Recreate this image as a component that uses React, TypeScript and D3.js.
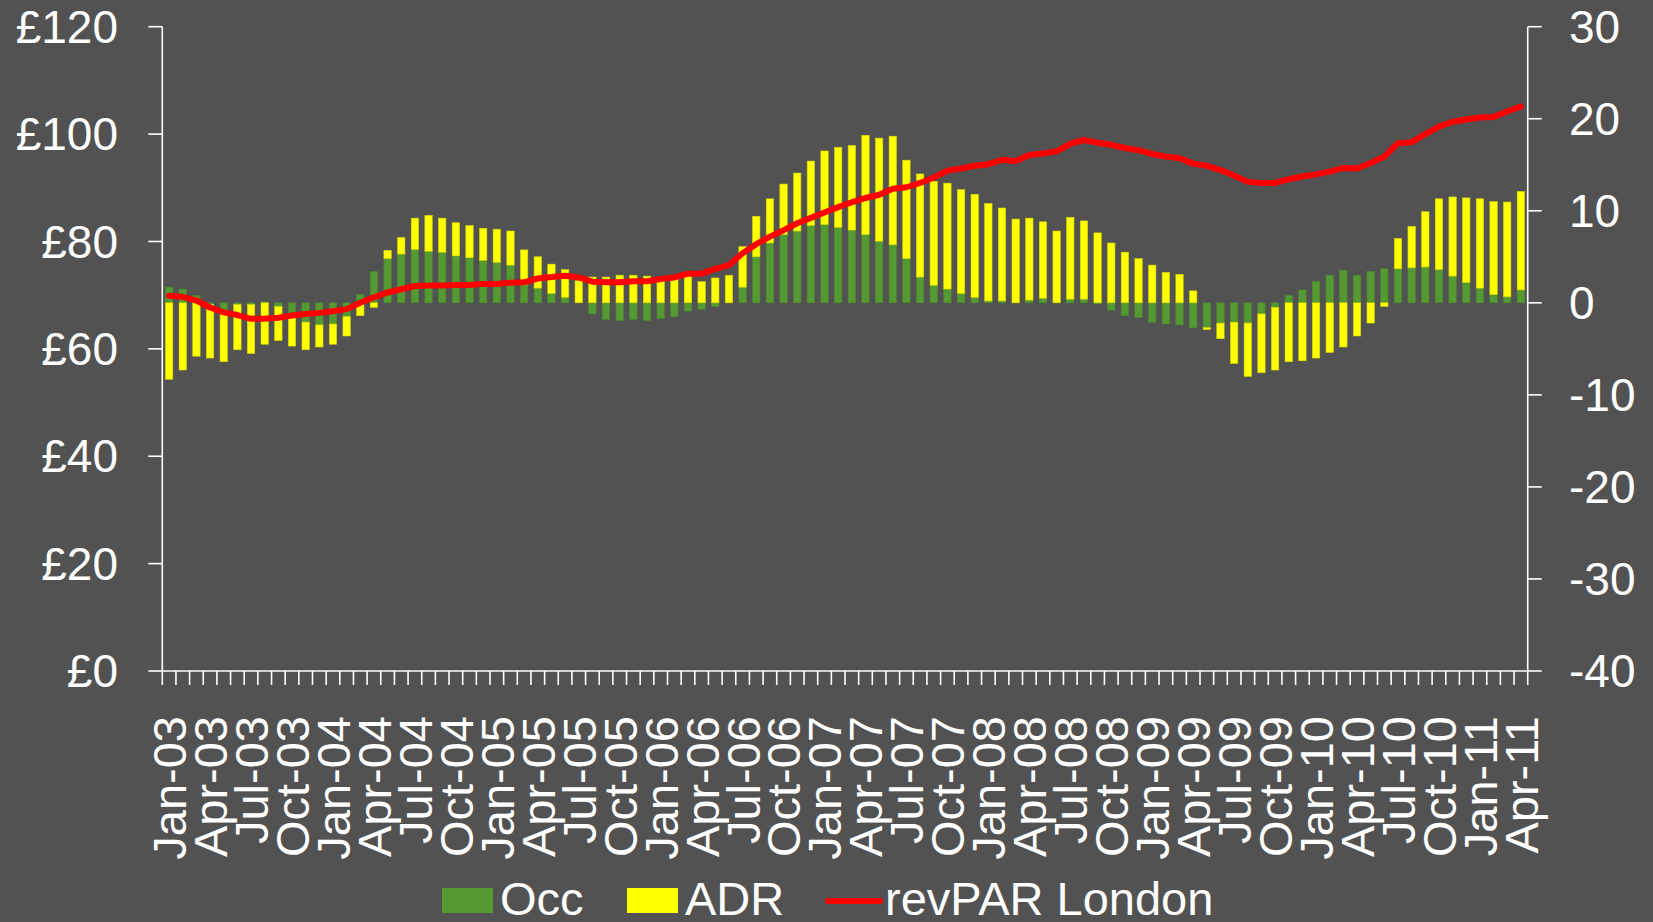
import React, { useEffect, useRef } from 'react';
import * as d3 from 'd3';

// monthly % change, Jan-03 .. Apr-11
const occ = [
  1.7, 1.5, 0.8, -0.2, -1.2, -0.2, -0.2, 0.1, -0.4, -1.5,
  -2.1, -2.4, -2.3, -1.5, 0.9, 3.4, 4.8, 5.3, 5.8, 5.6,
  5.5, 5.1, 4.9, 4.6, 4.4, 4.1, 1.95, 1.6, 1.0, 0.6,
  0.0, -1.2, -1.8, -1.9, -1.8, -1.9, -1.7, -1.5, -0.9, -0.7,
  -0.4, 0.0, 1.7, 5.0, 6.5, 7.4, 7.8, 8.4, 8.5, 8.2,
  7.9, 7.4, 6.7, 6.3, 4.8, 2.8, 1.9, 1.5, 1.0, 0.6,
  0.2, 0.2, 0.0, 0.3, 0.5, 0.0, 0.4, 0.4, -0.1, -0.8,
  -1.4, -1.6, -2.1, -2.3, -2.4, -2.7, -2.7, -2.2, -2.1, -2.2,
  -1.2, -0.5, 0.8, 1.4, 2.3, 3.0, 3.5, 3.0, 3.4, 3.7,
  3.7, 3.8, 3.9, 3.6, 2.9, 2.2, 1.6, 0.9, 0.65, 1.4,
];
const adr = [
  -8.3, -7.3, -5.8, -5.8, -5.2, -4.9, -5.3, -4.5, -3.7, -3.2,
  -3.0, -2.4, -2.2, -2.1, -1.4, -0.5, 0.9, 1.8, 3.4, 3.9,
  3.7, 3.6, 3.5, 3.5, 3.6, 3.7, 3.8, 3.4, 3.2, 3.0,
  2.4, 2.8, 2.8, 3.0, 3.0, 2.9, 2.7, 2.7, 2.9, 2.3,
  2.7, 3.0, 4.4, 4.4, 4.8, 5.5, 6.3, 7.0, 8.0, 8.7,
  9.2, 10.8, 11.2, 11.8, 10.7, 11.2, 11.3, 11.5, 11.3, 11.2,
  10.6, 10.1, 9.1, 8.9, 8.3, 7.8, 8.9, 8.5, 7.6, 6.5,
  5.5, 4.8, 4.1, 3.3, 3.1, 1.3, -0.2, -1.7, -4.5, -5.8,
  -6.4, -6.8, -6.4, -6.3, -6.0, -5.4, -4.8, -3.6, -2.2, -0.4,
  3.3, 4.5, 6.0, 7.7, 8.6, 9.2, 9.7, 10.1, 10.3, 10.7,
];
// revPAR London, £
const revpar = [
  69.9, 69.7, 69.0, 67.7, 66.8, 66.3, 65.6, 65.6, 65.8, 66.2,
  66.5, 66.7, 67.0, 67.4, 68.6, 69.6, 70.5, 71.1, 71.7, 71.8,
  71.8, 71.9, 71.9, 72.1, 72.1, 72.3, 72.4, 73.1, 73.4, 73.6,
  73.3, 72.5, 72.4, 72.4, 72.6, 72.6, 73.0, 73.3, 74.0, 74.0,
  74.9, 75.6, 77.8, 79.5, 80.9, 82.1, 83.4, 84.4, 85.4, 86.4,
  87.3, 88.1, 88.7, 89.8, 90.1, 90.9, 91.9, 93.2, 93.6, 94.1,
  94.4, 95.2, 95.0, 96.1, 96.4, 96.8, 98.2, 98.9, 98.4, 98.0,
  97.4, 97.0, 96.3, 95.8, 95.5, 94.5, 94.1, 93.3, 92.3, 91.1,
  90.9, 90.9, 91.6, 92.1, 92.5, 93.0, 93.7, 93.6, 94.6, 95.8,
  98.3, 98.5, 100.0, 101.4, 102.3, 102.7, 103.1, 103.2, 104.2, 105.1,
];
const tickLabels = [
  'Jan-03', 'Apr-03', 'Jul-03', 'Oct-03', 'Jan-04', 'Apr-04', 'Jul-04', 'Oct-04',
  'Jan-05', 'Apr-05', 'Jul-05', 'Oct-05', 'Jan-06', 'Apr-06', 'Jul-06', 'Oct-06',
  'Jan-07', 'Apr-07', 'Jul-07', 'Oct-07', 'Jan-08', 'Apr-08', 'Jul-08', 'Oct-08',
  'Jan-09', 'Apr-09', 'Jul-09', 'Oct-09', 'Jan-10', 'Apr-10', 'Jul-10', 'Oct-10',
  'Jan-11', 'Apr-11',
];
const leftTicks = [0, 20, 40, 60, 80, 100, 120];
const rightTicks = [-40, -30, -20, -10, 0, 10, 20, 30];

const W = 1653;
const H = 922;
const FONT = '"Liberation Sans", Arial, sans-serif';
const GREEN = '#559932';
const YELLOW = '#ffff00';
const RED = '#ff0000';

const App: React.FC = () => {
  const svgRef = useRef<SVGSVGElement | null>(null);

  useEffect(() => {
    document.body.style.margin = '0';
    if (!svgRef.current) return;
    const svg = d3.select(svgRef.current);
    svg.selectAll('*').remove();

    const plot = { left: 162.3, right: 1527.7, top: 26.7, bottom: 671 };
    const fmt = d3.timeFormat('%b-%y');
    const months = d3.timeMonths(new Date(2003, 0, 1), new Date(2011, 4, 1)).map(d => fmt(d));

    const x = d3.scaleBand<string>()
      .domain(months)
      .range([plot.left, plot.right])
      .paddingInner(0.46)
      .paddingOuter(0.23);
    const xTick = d3.scaleLinear().domain([0, months.length]).range([plot.left, plot.right]);
    const yL = d3.scaleLinear().domain([0, 120]).range([plot.bottom, plot.top]);
    const yR = d3.scaleLinear().domain([-40, 30]).range([plot.bottom, plot.top]);

    svg.append('rect').attr('width', W).attr('height', H).attr('fill', '#525252');

    // stacked bars (positive and negative stacks separately)
    const rows = months.map((m, i) => ({ m, occ: occ[i], adr: adr[i] }));
    const stack = d3.stack<any>().keys(['occ', 'adr']).offset(d3.stackOffsetDiverging);
    const series = stack(rows);
    const colors: Record<string, string> = { occ: GREEN, adr: YELLOW };

    series.forEach(s => {
      svg.append('g')
        .selectAll('rect')
        .data(s)
        .enter().append('rect')
        .attr('x', d => x(d.data.m) as number)
        .attr('width', x.bandwidth())
        .attr('y', d => yR(Math.max(d[0], d[1])))
        .attr('height', d => Math.abs(yR(d[0]) - yR(d[1])))
        .attr('fill', colors[s.key])
        .attr('stroke', s.key === 'occ' ? '#4d8a2d' : '#d8d800')
        .attr('stroke-width', 0.6);
    });

    // revPAR line
    const line = d3.line<number>()
      .x((_, i) => (x(months[i]) as number) + x.bandwidth() / 2)
      .y(d => yL(d));
    svg.append('path')
      .datum(revpar)
      .attr('d', line)
      .attr('fill', 'none')
      .attr('stroke', RED)
      .attr('stroke-width', 6)
      .attr('stroke-linejoin', 'round')
      .attr('stroke-linecap', 'round');

    const axisColor = '#ffffff';
    const tickLen = 14;
    const axes = svg.append('g').attr('stroke', axisColor).attr('stroke-width', 1.6);

    // left axis
    axes.append('line').attr('x1', plot.left).attr('x2', plot.left).attr('y1', plot.top).attr('y2', plot.bottom);
    leftTicks.forEach(t => {
      axes.append('line').attr('x1', plot.left - tickLen).attr('x2', plot.left).attr('y1', yL(t)).attr('y2', yL(t));
    });
    // right axis
    axes.append('line').attr('x1', plot.right).attr('x2', plot.right).attr('y1', plot.top).attr('y2', plot.bottom);
    rightTicks.forEach(t => {
      axes.append('line').attr('x1', plot.right).attr('x2', plot.right + tickLen).attr('y1', yR(t)).attr('y2', yR(t));
    });
    // x axis
    axes.append('line').attr('x1', plot.left).attr('x2', plot.right).attr('y1', plot.bottom).attr('y2', plot.bottom);
    d3.range(months.length + 1).forEach(k => {
      axes.append('line').attr('x1', xTick(k)).attr('x2', xTick(k)).attr('y1', plot.bottom).attr('y2', plot.bottom + tickLen);
    });

    const txt = svg.append('g').attr('fill', '#ffffff').attr('font-family', FONT).attr('font-size', 46);

    leftTicks.forEach(t => {
      txt.append('text')
        .attr('x', 118)
        .attr('y', yL(t))
        .attr('dy', '0.35em')
        .attr('text-anchor', 'end')
        .text(`£${t}`);
    });
    rightTicks.forEach(t => {
      txt.append('text')
        .attr('x', 1569)
        .attr('y', yR(t))
        .attr('dy', '0.35em')
        .attr('text-anchor', 'start')
        .text(`${t}`);
    });
    tickLabels.forEach((lab, j) => {
      const cx = (x(months[j * 3]) as number) + x.bandwidth() / 2;
      txt.append('text')
        .attr('transform', `translate(${cx},716) rotate(-90)`)
        .attr('dy', '0.36em')
        .attr('text-anchor', 'end')
        .attr('font-size', 47)
        .text(lab);
    });

    // legend
    const lg = svg.append('g');
    lg.append('rect').attr('x', 442).attr('y', 888).attr('width', 51).attr('height', 25).attr('fill', GREEN);
    lg.append('rect').attr('x', 627).attr('y', 888).attr('width', 51).attr('height', 25).attr('fill', YELLOW);
    lg.append('line').attr('x1', 828).attr('x2', 880).attr('y1', 901).attr('y2', 901)
      .attr('stroke', RED).attr('stroke-width', 6).attr('stroke-linecap', 'round');
    const legendText: [string, number][] = [['Occ', 500], ['ADR', 685], ['revPAR London', 885]];
    legendText.forEach(([t, lx]) => {
      lg.append('text')
        .attr('x', lx)
        .attr('y', 915)
        .attr('fill', '#ffffff')
        .attr('font-family', FONT)
        .attr('font-size', 47)
        .text(t);
    });
  }, []);

  return (
    <svg ref={svgRef} width={W} height={H} style={{ position: 'absolute', left: 0, top: 0, display: 'block' }} />
  );
};

export default App;
